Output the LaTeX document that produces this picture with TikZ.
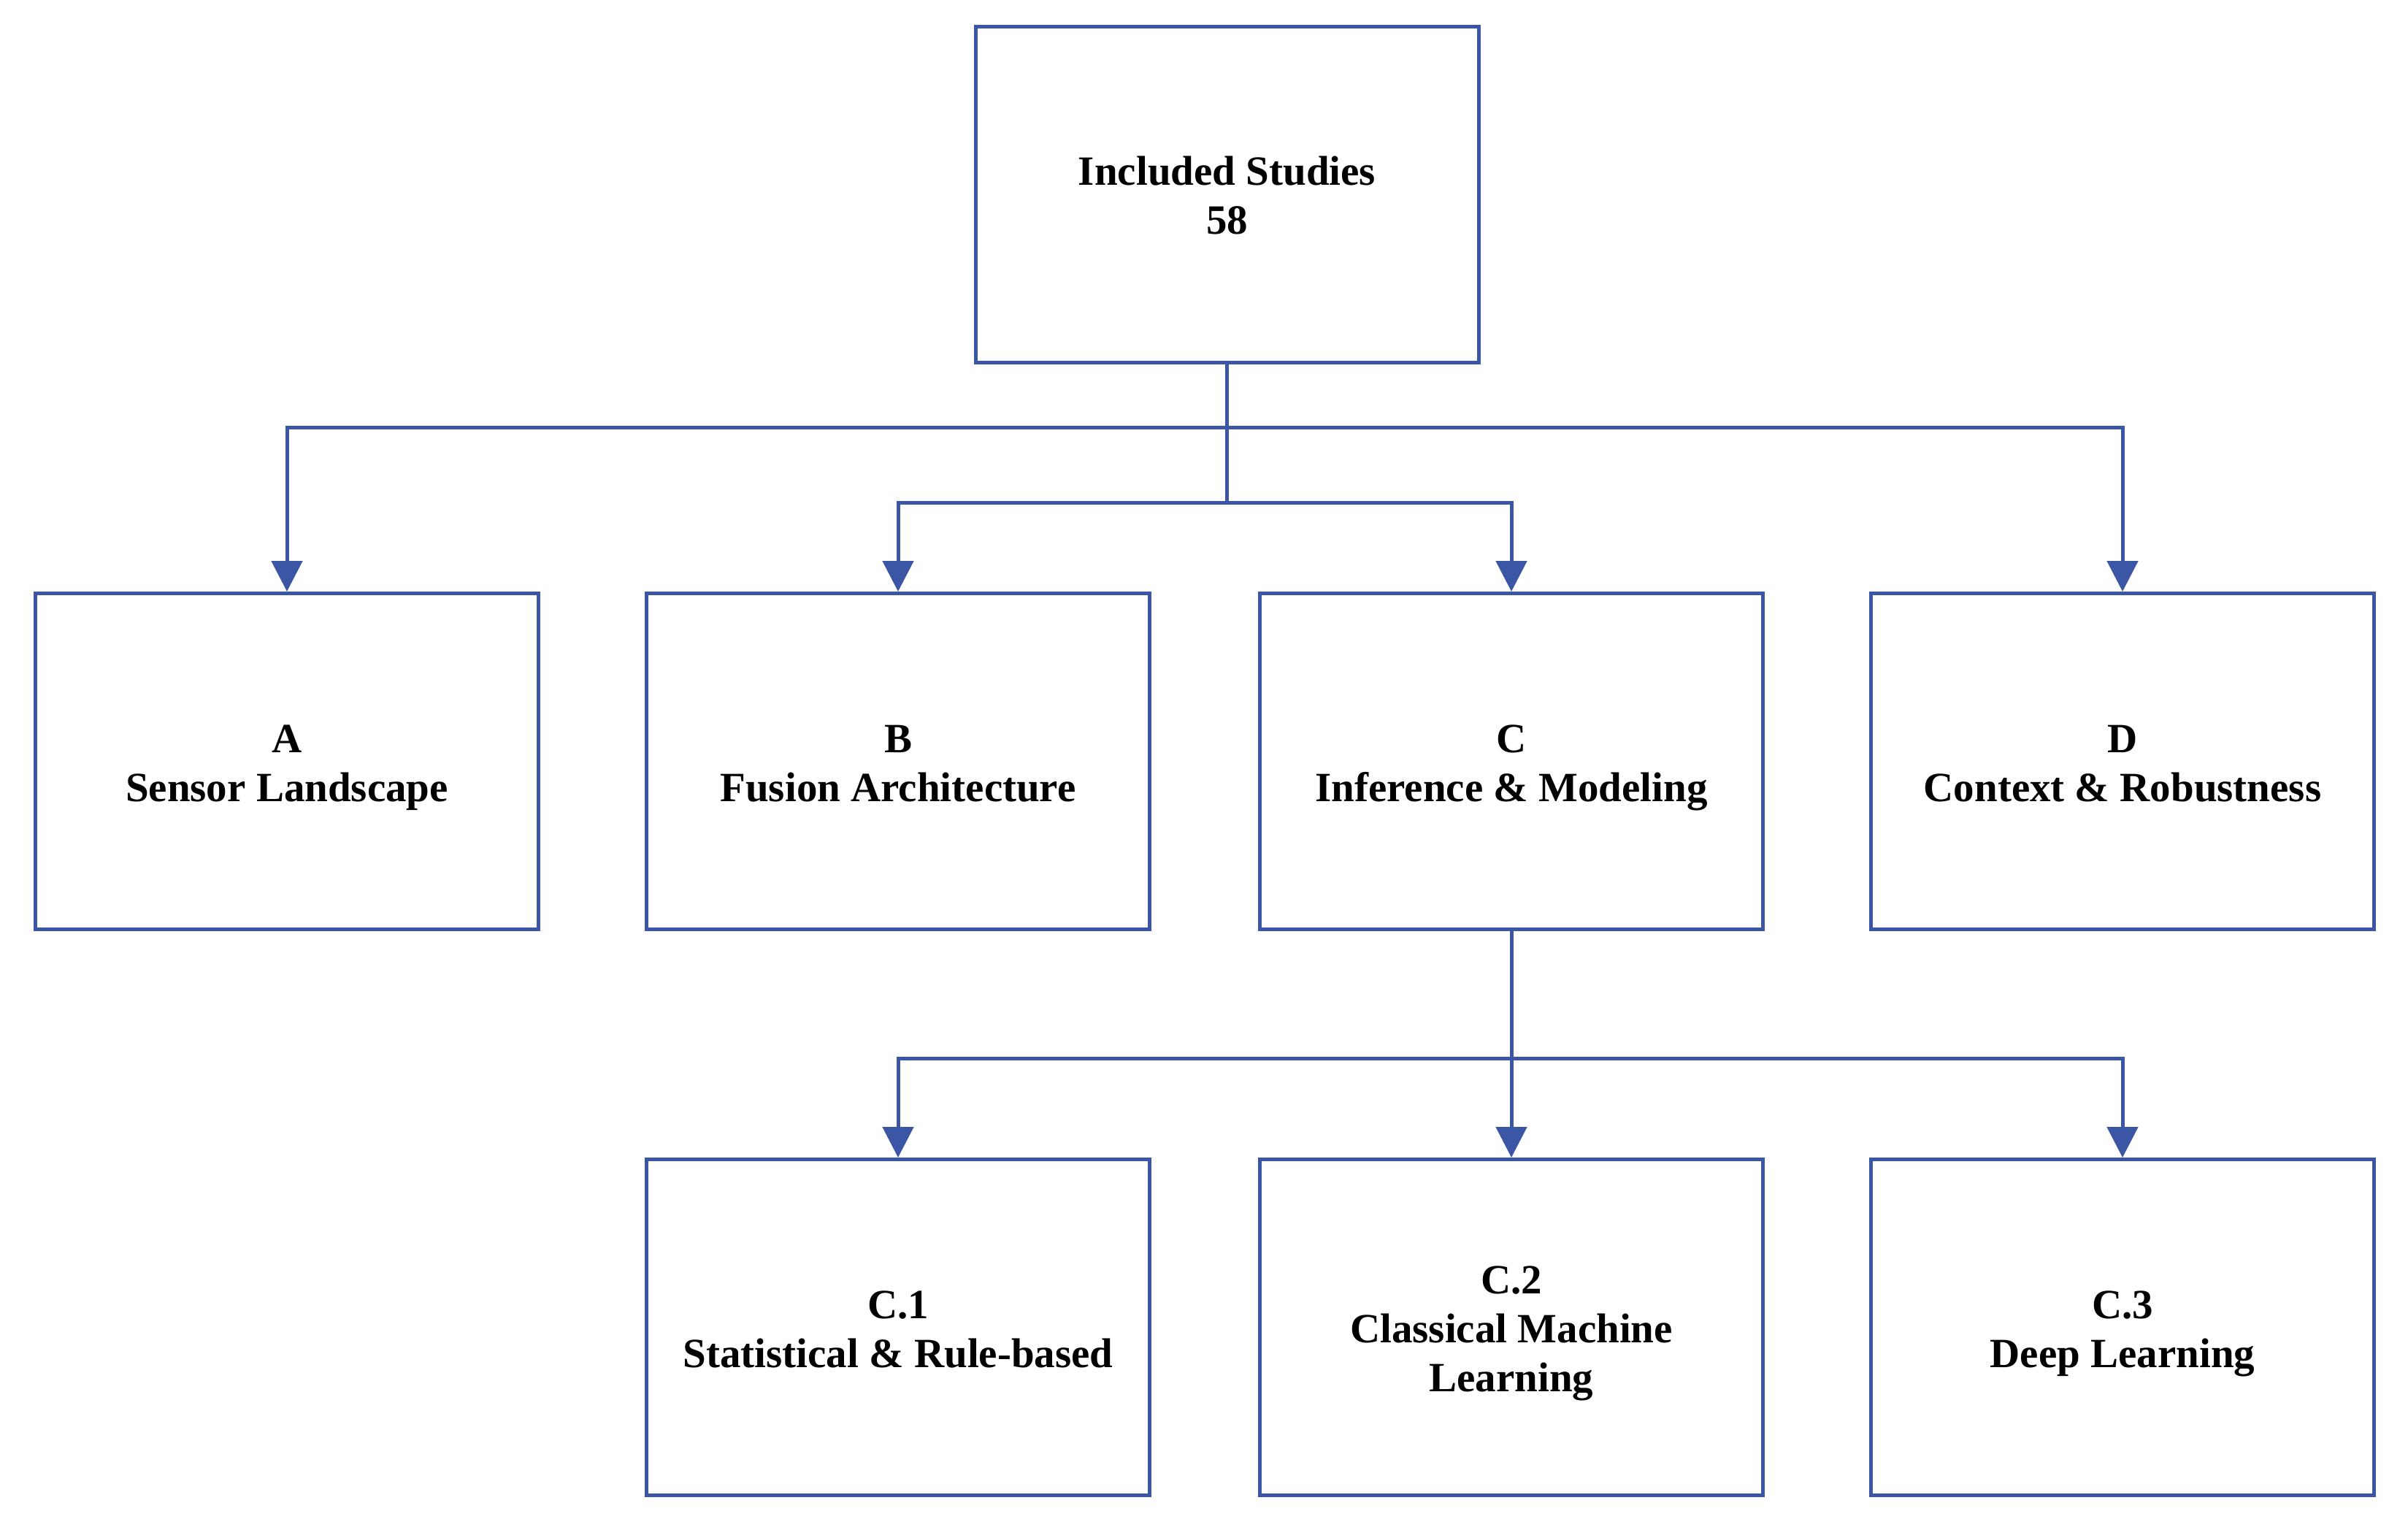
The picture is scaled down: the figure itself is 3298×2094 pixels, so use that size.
\documentclass[tikz,border=0pt]{standalone}
\usepackage{fontspec}
\setmainfont{Liberation Serif}
\usetikzlibrary{arrows.meta,calc}
\definecolor{boxblue}{RGB}{60,86,166}
\newcommand\tstrut{\rule{0pt}{62pt}}
\newcommand\bstrut{\rule[-20pt]{0pt}{20pt}}
\tikzset{
  catbox/.style={draw=boxblue, line width=5pt, minimum width=689pt, minimum height=460pt,
    inner sep=0pt, align=center, font=\fontsize{57}{67}\selectfont\bfseries,
    execute at end node=\bstrut},
  conn/.style={draw=boxblue, line width=5pt},
  arr/.style={conn, -{Triangle[length=42pt,width=42pt]}}
}
\begin{document}
\begin{tikzpicture}[x=1pt,y=1pt]
\useasboundingbox (0,0) rectangle (3298,-2094);
\node[catbox] (top) at (1680.5,-266) {\tstrut Included Studies\\58};
\node[catbox] (A) at (393,-1042.5) {\tstrut A\\Sensor Landscape};
\node[catbox] (B) at (1230,-1042.5) {\tstrut B\\Fusion Architecture};
\node[catbox] (C) at (2070,-1042.5) {\tstrut C\\Inference \& Modeling};
\node[catbox] (D) at (2907,-1042.5) {\tstrut D\\Context \& Robustness};
\node[catbox] (C1) at (1230,-1817.5) {\tstrut C.1\\Statistical \& Rule-based};
\node[catbox] (C2) at (2070,-1817.5) {\tstrut C.2\\Classical Machine\\Learning};
\node[catbox] (C3) at (2907,-1817.5) {\tstrut C.3\\Deep Learning};
\coordinate (j1) at ($(top.south)+(0,-87)$);
\coordinate (j2) at ($(top.south)+(0,-190)$);
\coordinate (j3) at ($(C.south)+(0,-174)$);
\draw[conn] (top.south) -- (j2);
\draw[arr] (j1) -| (A.north);
\draw[arr] (j1) -| (D.north);
\draw[arr] (j2) -| (B.north);
\draw[arr] (j2) -| (C.north);
\draw[arr] (C.south) -- (C2.north);
\draw[arr] (j3) -| (C1.north);
\draw[arr] (j3) -| (C3.north);
\end{tikzpicture}
\end{document}
